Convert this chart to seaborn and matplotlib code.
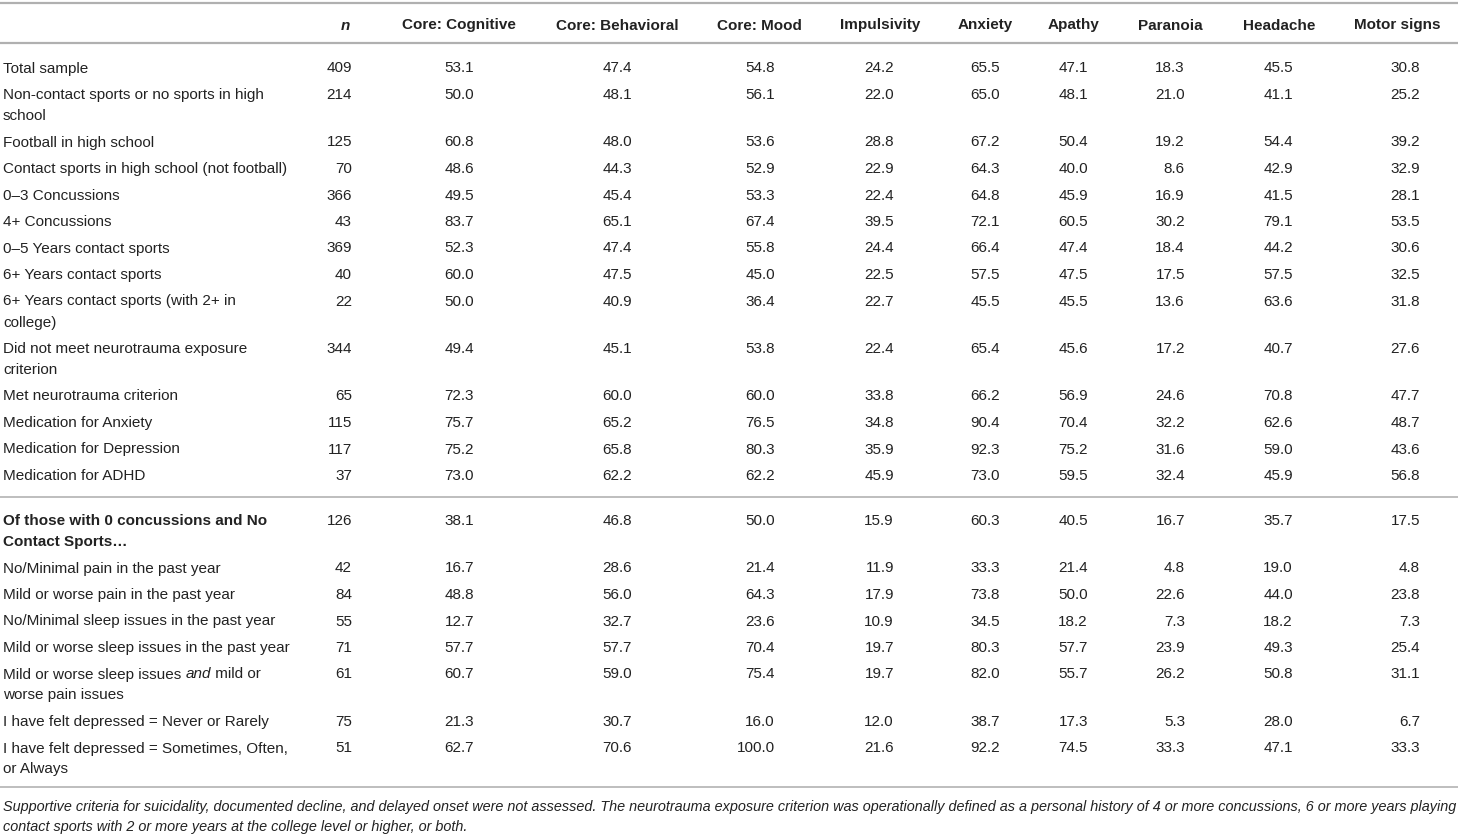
import matplotlib
matplotlib.use("Agg")
import matplotlib.pyplot as plt
import seaborn as sns
import pandas as pd

# ---------------- data ----------------
groups = [
    "Total sample",
    "Non-contact sports or no sports in high\nschool",
    "Football in high school",
    "Contact sports in high school (not football)",
    "0\u20133 Concussions",
    "4+ Concussions",
    "0\u20135 Years contact sports",
    "6+ Years contact sports",
    "6+ Years contact sports (with 2+ in\ncollege)",
    "Did not meet neurotrauma exposure\ncriterion",
    "Met neurotrauma criterion",
    "Medication for Anxiety",
    "Medication for Depression",
    "Medication for ADHD",
    "Of those with 0 concussions and No\nContact Sports\u2026",
    "No/Minimal pain in the past year",
    "Mild or worse pain in the past year",
    "No/Minimal sleep issues in the past year",
    "Mild or worse sleep issues in the past year",
    "Mild or worse sleep issues *and* mild or\nworse pain issues",
    "I have felt depressed = Never or Rarely",
    "I have felt depressed = Sometimes, Often,\nor Always",
]
n_vals = [409, 214, 125, 70, 366, 43, 369, 40, 22, 344, 65, 115, 117, 37,
          126, 42, 84, 55, 71, 61, 75, 51]
cognitive = [53.1, 50.0, 60.8, 48.6, 49.5, 83.7, 52.3, 60.0, 50.0, 49.4, 72.3, 75.7, 75.2, 73.0,
             38.1, 16.7, 48.8, 12.7, 57.7, 60.7, 21.3, 62.7]
behavioral = [47.4, 48.1, 48.0, 44.3, 45.4, 65.1, 47.4, 47.5, 40.9, 45.1, 60.0, 65.2, 65.8, 62.2,
              46.8, 28.6, 56.0, 32.7, 57.7, 59.0, 30.7, 70.6]
mood = [54.8, 56.1, 53.6, 52.9, 53.3, 67.4, 55.8, 45.0, 36.4, 53.8, 60.0, 76.5, 80.3, 62.2,
        50.0, 21.4, 64.3, 23.6, 70.4, 75.4, 16.0, 100.0]
impulsivity = [24.2, 22.0, 28.8, 22.9, 22.4, 39.5, 24.4, 22.5, 22.7, 22.4, 33.8, 34.8, 35.9, 45.9,
               15.9, 11.9, 17.9, 10.9, 19.7, 19.7, 12.0, 21.6]
anxiety = [65.5, 65.0, 67.2, 64.3, 64.8, 72.1, 66.4, 57.5, 45.5, 65.4, 66.2, 90.4, 92.3, 73.0,
           60.3, 33.3, 73.8, 34.5, 80.3, 82.0, 38.7, 92.2]
apathy = [47.1, 48.1, 50.4, 40.0, 45.9, 60.5, 47.4, 47.5, 45.5, 45.6, 56.9, 70.4, 75.2, 59.5,
          40.5, 21.4, 50.0, 18.2, 57.7, 55.7, 17.3, 74.5]
paranoia = [18.3, 21.0, 19.2, 8.6, 16.9, 30.2, 18.4, 17.5, 13.6, 17.2, 24.6, 32.2, 31.6, 32.4,
            16.7, 4.8, 22.6, 7.3, 23.9, 26.2, 5.3, 33.3]
headache = [45.5, 41.1, 54.4, 42.9, 41.5, 79.1, 44.2, 57.5, 63.6, 40.7, 70.8, 62.6, 59.0, 45.9,
            35.7, 19.0, 44.0, 18.2, 49.3, 50.8, 28.0, 47.1]
motor = [30.8, 25.2, 39.2, 32.9, 28.1, 53.5, 30.6, 32.5, 31.8, 27.6, 47.7, 48.7, 43.6, 56.8,
         17.5, 4.8, 23.8, 7.3, 25.4, 31.1, 6.7, 33.3]

value_headers = ["Core: Cognitive", "Core: Behavioral", "Core: Mood", "Impulsivity",
                 "Anxiety", "Apathy", "Paranoia", "Headache", "Motor signs"]
footnote_lines = [
    "Supportive criteria for suicidality, documented decline, and delayed onset were not assessed. "
    "The neurotrauma exposure criterion was operationally defined as a personal history of 4 or more "
    "concussions, 6 or more years playing",
    "contact sports with 2 or more years at the college level or higher, or both.",
]
bold_row = 14          # index of the bold sub-heading row
separator_before = 14  # rule drawn before this row

df = pd.DataFrame({"n": n_vals, value_headers[0]: cognitive, value_headers[1]: behavioral,
                   value_headers[2]: mood, value_headers[3]: impulsivity,
                   value_headers[4]: anxiety, value_headers[5]: apathy,
                   value_headers[6]: paranoia, value_headers[7]: headache,
                   value_headers[8]: motor}, index=groups)

# ---------------- layout ----------------
W, H = 1458, 835
header_center = [459, 617, 759, 880, 985, 1074, 1170, 1279, 1397]
value_right = [474, 632, 775, 894, 1000, 1088, 1185, 1293, 1420]
n_header_x, n_right = 345, 352
label_x = 3
text_color = "#222222"
rule_color = "#b0b0b0"
fs = 11
base_off = 5.5
row_step, line_step = 26.5, 21

sns.set_theme(style="white")
plt.rcParams["font.family"] = ["Liberation Sans", "DejaVu Sans"]

fig = plt.figure(figsize=(W / 100, H / 100), dpi=100)
ax = fig.add_axes([0, 0, 1, 1])
ax.set_xlim(0, W)
ax.set_ylim(H, 0)
ax.axis("off")
renderer = fig.canvas.get_renderer()


def rule(y, lw_px):
    ax.plot([0, W], [y, y], color=rule_color, lw=lw_px * 0.72, solid_capstyle="butt")


rule(3, 2.2)
rule(43, 2.2)

# header
hy = 24 + base_off
ax.text(n_header_x, hy, "n", ha="center", va="baseline", fontsize=fs, fontweight="bold",
        fontstyle="italic", color=text_color)
for hx, name in zip(header_center, df.columns[1:]):
    ax.text(hx, hy, name, ha="center", va="baseline", fontsize=fs, fontweight="bold",
            color=text_color)


def draw_label(x, y, label, weight):
    for li, line in enumerate(label.split("\n")):
        cx = x
        for pi, part in enumerate(line.split("*")):
            if not part:
                continue
            t = ax.text(cx, y + li * line_step, part, ha="left", va="baseline", fontsize=fs,
                        fontweight=weight, fontstyle="italic" if pi % 2 == 1 else "normal",
                        color=text_color)
            cx += t.get_window_extent(renderer).width


y = 67
for i, (label, row) in enumerate(df.iterrows()):
    if i == separator_before:
        rule(y - 4.5, 1.6)
        y += 18.5
    lines = label.count("\n") + 1
    weight = "bold" if i == bold_row else "normal"
    by = y + base_off
    draw_label(label_x, by, label, weight)
    ax.text(n_right, by, f"{int(row['n'])}", ha="right", va="baseline", fontsize=fs,
            color=text_color)
    for xr, col in zip(value_right, df.columns[1:]):
        ax.text(xr, by, f"{row[col]:.1f}", ha="right", va="baseline", fontsize=fs,
                color=text_color)
    y += row_step + line_step * (lines - 1)

rule(787, 1.6)

# footnote, scaled so the first line spans the width
probe = ax.text(0, 0, footnote_lines[0], fontsize=fs, fontstyle="italic")
wpx = probe.get_window_extent(renderer).width
probe.remove()
ffs = fs * 1451 / wpx
for k, line in enumerate(footnote_lines):
    ax.text(label_x, 806 + k * 20 + base_off * ffs / fs, line, ha="left", va="baseline",
            fontsize=ffs, fontstyle="italic", color=text_color)

fig.savefig("out.png", dpi=100)
